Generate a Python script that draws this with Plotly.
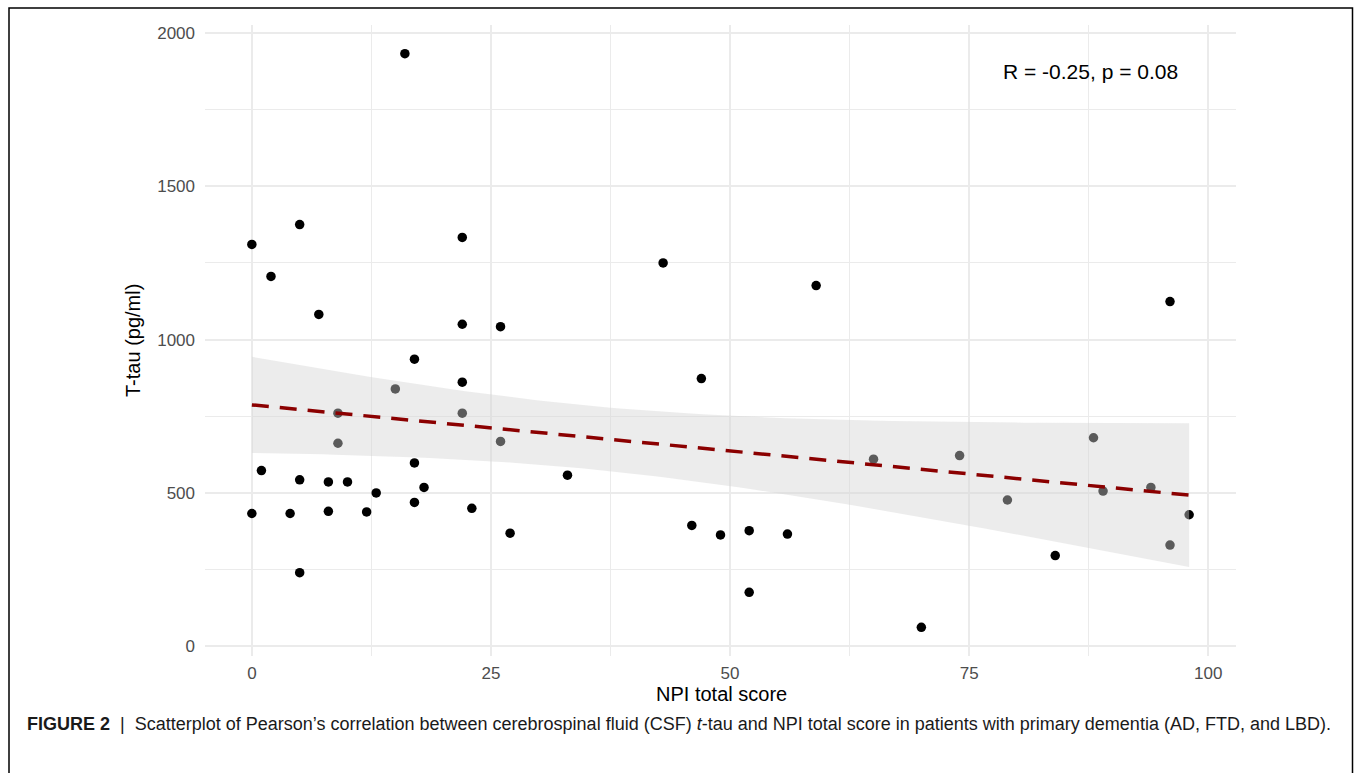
import numpy as np
import plotly.graph_objects as go

# ---- data ----
npi_total = [16, 0, 5, 2, 7, 22, 22, 26, 17, 22, 15, 9, 22, 9, 26, 1, 17, 5, 8, 10,
             18, 13, 0, 4, 8, 12, 17, 23, 27, 33, 5, 43, 59, 47, 65, 74, 46, 49, 52, 56,
             52, 70, 96, 88, 79, 89, 94, 98, 84, 96]
t_tau = [1932, 1310, 1375, 1206, 1082, 1333, 1050, 1042, 936, 861, 839, 760, 760, 662, 668,
         573, 598, 543, 536, 536, 518, 500, 433, 433, 440, 438, 469, 450, 369, 558, 240,
         1250, 1176, 873, 610, 622, 394, 363, 377, 366, 176, 62, 1124, 680, 477, 506, 518,
         429, 296, 330]
x_ticks = [0, 25, 50, 75, 100]
y_ticks = [0, 500, 1000, 1500, 2000]
stat_label = "R = -0.25, p = 0.08"
x_title = "NPI total score"
y_title = "T-tau (pg/ml)"
caption = ("<b>FIGURE 2</b>  |  Scatterplot of Pearson\u2019s correlation between cerebrospinal "
           "fluid (CSF) <i>t</i>-tau and NPI total score in patients with primary dementia "
           "(AD, FTD, and LBD).")

# ---- linear fit with 95% confidence band (geom_smooth(method='lm')) ----
x = np.array(npi_total, float)
y = np.array(t_tau, float)
n = len(x)
slope, intercept = np.polyfit(x, y, 1)
resid = y - (intercept + slope * x)
s = np.sqrt(np.sum(resid ** 2) / (n - 2))
sxx = np.sum((x - x.mean()) ** 2)
t_crit = 2.0106  # t(0.975, df=48)
xs = np.linspace(x.min(), x.max(), 80)
yhat = intercept + slope * xs
half = t_crit * s * np.sqrt(1 / n + (xs - x.mean()) ** 2 / sxx)
upper = yhat + half
lower = yhat - half

# ---- layout geometry (pixels) ----
W, H = 1355, 773
L, R, T, B = 205, 1236, 25, 656


def px(xp):
    return (xp - L) / (R - L)


def py(yp):
    return (B - yp) / (B - T)


fig = go.Figure()
fig.add_trace(go.Scatter(x=npi_total, y=t_tau, mode="markers",
                         marker=dict(color="black", size=9.5, line=dict(width=0)),
                         hoverinfo="skip", showlegend=False))
fig.add_trace(go.Scatter(x=np.concatenate([xs, xs[::-1]]),
                         y=np.concatenate([upper, lower[::-1]]),
                         fill="toself", fillcolor="rgba(211,211,211,0.43)",
                         line=dict(width=0), mode="lines", hoverinfo="skip",
                         showlegend=False))
fig.add_trace(go.Scatter(x=xs, y=yhat, mode="lines",
                         line=dict(color="#8B0000", width=3.5, dash="17px,11px"),
                         hoverinfo="skip", showlegend=False))

grid = "#ebebeb"
tickfont = dict(family="Liberation Sans, Arial", size=17, color="#4d4d4d")
fig.update_xaxes(range=[-4.9, 102.9], tickvals=x_ticks, ticktext=[str(v) for v in x_ticks],
                 showgrid=True, gridcolor=grid, gridwidth=1.5, zeroline=False,
                 showline=False, ticks="", ticklabelstandoff=5, tickfont=tickfont,
                 minor=dict(dtick=12.5, tick0=0, showgrid=True, gridcolor=grid, gridwidth=1.0),
                 fixedrange=True)
fig.update_yaxes(range=[-31.5, 2025.5], tickvals=y_ticks, ticktext=[str(v) for v in y_ticks],
                 showgrid=True, gridcolor=grid, gridwidth=1.5, zeroline=False,
                 showline=False, ticks="", ticklabelstandoff=9, tickfont=tickfont,
                 minor=dict(dtick=250, tick0=0, showgrid=True, gridcolor=grid, gridwidth=1.0),
                 fixedrange=True)

annos = [
    dict(x=px(1090), y=py(71), text=stat_label, font=dict(size=21, color="black")),
    dict(x=px(721), y=py(694), text=x_title, font=dict(size=20, color="black")),
    dict(x=px(133), y=py(341), text=y_title, textangle=-90, font=dict(size=20, color="black")),
    dict(x=px(25), y=py(724), text=caption, xanchor="left",
         font=dict(size=18, color="#1a1a1a")),
]
for a in annos:
    a.setdefault("xanchor", "center")
    a.update(xref="paper", yref="paper", yanchor="middle", showarrow=False)
    a["font"]["family"] = "Liberation Sans, Arial"
fig.update_layout(annotations=annos)

fig.add_shape(type="rect", xref="paper", yref="paper",
              x0=px(9), x1=px(1352.5), y0=py(785), y1=py(8),
              line=dict(color="black", width=1.5), fillcolor="rgba(0,0,0,0)", layer="above")

fig.update_layout(width=W, height=H,
                  margin=dict(l=L, r=W - R, t=T, b=H - B, pad=0),
                  paper_bgcolor="white", plot_bgcolor="white",
                  font=dict(family="Liberation Sans, Arial"),
                  showlegend=False)

fig.write_html("out.html", config={"displayModeBar": False},
               post_script="document.body.style.margin='0';document.body.style.overflow='hidden';")
